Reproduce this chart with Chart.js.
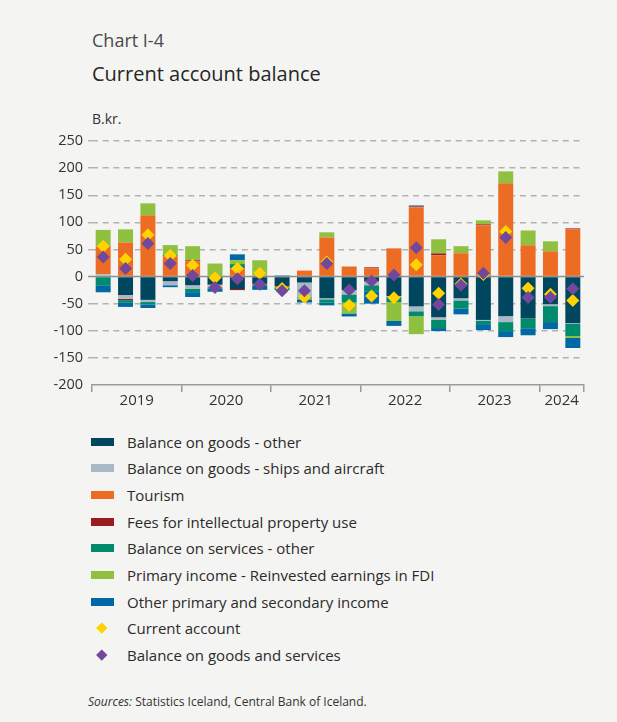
<!DOCTYPE html>
<html>
<head>
<meta charset="utf-8">
<title>Current account balance</title>
<script src="https://cdn.jsdelivr.net/npm/chart.js@4.4.1/dist/chart.umd.min.js"></script>
<style>
  html, body { margin: 0; padding: 0; background: #f4f4f2; }
  #page { position: relative; width: 617px; height: 722px; overflow: hidden;
          font-family: 'Open Sans', sans-serif; color: #2b2b2b; }
  .t { position: absolute; white-space: nowrap; }
  #kicker { left: 92px; top: 31px; font-size: 18px; line-height: 18px; color: #4a4a4a; }
  #title  { left: 92px; top: 64px; font-size: 20px; line-height: 20px; color: #262626; }
  #unit   { left: 92px; top: 112px; font-size: 14px; line-height: 14px; color: #333; }
  #wrap   { position: absolute; left: 0; top: 120px; width: 617px; height: 295px; }
  .row    { position: absolute; left: 0; width: 617px; height: 26px; }
  .swatch { position: absolute; left: 91px; top: 9px; width: 23px; height: 8px; }
  .dia    { position: absolute; left: 98px; top: 9px; width: 7.5px; height: 7.5px; transform: rotate(45deg); }
  .lbl    { position: absolute; left: 127px; top: 0; font-size: 15px; line-height: 26px; color: #2b2b2b; white-space: nowrap; }
  #sources { left: 88px; top: 696px; font-size: 12px; line-height: 12px; color: #333; }
</style>
</head>
<body>
<div id="page">
  <div class="t" id="kicker">Chart I-4</div>
  <div class="t" id="title">Current account balance</div>
  <div class="t" id="unit">B.kr.</div>
  <div id="wrap"><canvas id="chart" width="617" height="295"></canvas></div>
  <div id="legend"></div>
  <div class="t" id="sources"><i>Sources:</i> Statistics Iceland, Central Bank of Iceland.</div>
</div>
<script>
// Quarters, 2019Q1 – 2024Q2
const quarters = ['2019Q1','2019Q2','2019Q3','2019Q4','2020Q1','2020Q2','2020Q3','2020Q4',
                  '2021Q1','2021Q2','2021Q3','2021Q4','2022Q1','2022Q2','2022Q3','2022Q4',
                  '2023Q1','2023Q2','2023Q3','2023Q4','2024Q1','2024Q2'];

// Components, B.kr.
const goodsOther     = [0, -34, -43, -8.5, -16, -15, -23, -13.5, -18, -11, -40, -25, -9, -36, -55, -75, -40, -80, -73, -77, -51, -86];
const shipsAircraft  = [4, -7, -4, -7.5, -7, -4, 0, 0, 0, -26, -2, -8, -7, -2, -9, -5, -4, -2, -11, 0, -3.5, -1.5];
const tourism        = [52, 63, 113, 37.5, 28, -2, 15, -2.5, -2.5, 11, 72, 18.5, 15, 52, 128, 39, 43, 94.5, 172, 57.7, 46.6, 87];
const ipFees         = [0, -2.5, 0, 0, 2, 0, -2, 0, 0, 0, 0, 0, 2, 0, 1.3, 3.7, 0, 1.8, 0, 0, 0, 1.8];
const servicesOther  = [-16, -5, -4.5, 2, -5.7, -1, 8, 0, -4.5, -2, -6.3, -15, -11, -9, -9.2, -15, -14.7, -5.7, -16.6, -18.3, -29.4, -22.3];
const fdiEarnings    = [30, 24, 22, 18.5, 26, 24, 7, 30, 0, -3, 9.6, -20, 0, -35, -33, 26, 13, 7.4, 22, 27.3, 18.4, -3.5];
const otherIncome    = [-13, -7.5, -6.5, -3.6, -9, -6, 11, -8.5, 2, -6, -4.8, -5.6, -23, -9, 1.8, -5.6, -11, -11, -11, -13, -13, -18.5];

// Totals
const currentAccount = [56, 32, 77, 39, 21, -2, 15, 6, -22, -38, 27, -53, -36, -39, 22, -31, -13.5, 4, 83, -21.5, -32.5, -44];
const goodsServices  = [36, 15, 61, 24, 2, -20, -4, -14, -26, -26, 24, -25, -8, 3, 53, -51.5, -16, 6, 72, -38.6, -38, -22.7];

// Y axis ticks
const yTicks = [-200, -150, -100, -50, 0, 50, 100, 150, 200, 250];

// Year groups on the x axis: label centred under its quarters, tick marks at year boundaries
const yearLabelAt = {};
const yearTicks = [-0.5];
{
  let start = 0;
  for (let i = 1; i <= quarters.length; i++) {
    const y0 = quarters[start].slice(0, 4);
    if (i === quarters.length || quarters[i].slice(0, 4) !== y0) {
      const mid = (start + i - 1) / 2;
      yearLabelAt[mid] = y0;
      yearTicks.push(mid, i - 0.5);
      start = i;
    }
  }
}

Chart.defaults.font.family = "'Open Sans', sans-serif";

const bar = (label, data, color) => ({
  type: 'bar', label, data, backgroundColor: color, borderWidth: 0,
  stack: 'components', order: 3, barPercentage: 1, categoryPercentage: 0.67
});
const marker = (label, data, color, order) => ({
  type: 'line', label, data, showLine: false, stack: label, order,
  pointStyle: 'rectRot', pointRadius: 6.5, pointHoverRadius: 6.5,
  pointBackgroundColor: color, pointBorderWidth: 0, backgroundColor: color, borderColor: color
});

const datasets = [
  bar('Balance on goods - other', goodsOther, '#00465f'),
  bar('Balance on goods - ships and aircraft', shipsAircraft, '#a8b9c5'),
  bar('Tourism', tourism, '#ec6c23'),
  bar('Fees for intellectual property use', ipFees, '#9b1b1f'),
  bar('Balance on services - other', servicesOther, '#008b6c'),
  bar('Primary income - Reinvested earnings in FDI', fdiEarnings, '#8fc03f'),
  bar('Other primary and secondary income', otherIncome, '#0069a5'),
  marker('Current account', currentAccount, '#ffd200', 1),
  marker('Balance on goods and services', goodsServices, '#72489c', 0)
];

const zeroLine = {
  id: 'zeroLine',
  beforeDatasetsDraw(chart) {
    const { ctx, chartArea, scales: { y } } = chart;
    const py = y.getPixelForValue(0);
    ctx.save();
    ctx.strokeStyle = '#8e8e8e';
    ctx.lineWidth = 1.5;
    ctx.beginPath();
    ctx.moveTo(chartArea.left - 4, py);
    ctx.lineTo(chartArea.right, py);
    ctx.stroke();
    ctx.restore();
  }
};

const chart = new Chart(document.getElementById('chart'), {
  data: { labels: quarters, datasets },
  plugins: [zeroLine],
  options: {
    responsive: false,
    animation: false,
    devicePixelRatio: 1,
    layout: { padding: { top: 21, right: 33, left: 0, bottom: 0 } },
    plugins: { legend: { display: false }, tooltip: { enabled: false } },
    scales: {
      x: { type: 'category', stacked: true, display: false, offset: true },
      years: {
        type: 'linear', position: 'bottom', min: -0.5, max: 21.5,
        afterBuildTicks(scale) { scale.ticks = yearTicks.map(v => ({ value: v })); },
        afterFit(scale) { scale.height = 30; },
        ticks: {
          autoSkip: false, maxRotation: 0, color: '#333', font: { size: 15 }, padding: 0,
          callback: (v) => yearLabelAt[v] || ''
        },
        grid: {
          drawOnChartArea: false, drawTicks: true, tickLength: 7, lineWidth: 1.5,
          color: (c) => (c.tick && yearLabelAt[c.tick.value] === undefined) ? '#9a9a9a' : 'rgba(0,0,0,0)'
        },
        border: { display: true, color: '#9a9a9a', width: 1.5 }
      },
      y: {
        stacked: true, min: -200, max: 250,
        afterBuildTicks(scale) { scale.ticks = yTicks.map(v => ({ value: v })); },
        afterFit(scale) { scale.width = 92; },
        ticks: { color: '#333', font: { size: 14.5 }, padding: 5 },
        grid: {
          lineWidth: 1.4, tickLength: 4, drawTicks: true,
          color: (c) => (c.tick && (c.tick.value === 0 || c.tick.value === -200)) ? 'rgba(0,0,0,0)' : '#b2b2b2'
        },
        border: { display: false, dash: [6, 4.7] }
      }
    }
  }
});

// Legend, one entry per line in dataset order
const legend = document.getElementById('legend');
chart.data.datasets.forEach((ds, i) => {
  const row = document.createElement('div');
  row.className = 'row';
  row.style.top = (441.7 + 26.67 * i - 13) + 'px';
  const key = document.createElement('div');
  key.className = ds.type === 'bar' ? 'swatch' : 'dia';
  key.style.background = ds.type === 'bar' ? ds.backgroundColor : ds.pointBackgroundColor;
  const lbl = document.createElement('div');
  lbl.className = 'lbl';
  lbl.textContent = ds.label;
  row.appendChild(key);
  row.appendChild(lbl);
  legend.appendChild(row);
});
</script>
</body>
</html>
